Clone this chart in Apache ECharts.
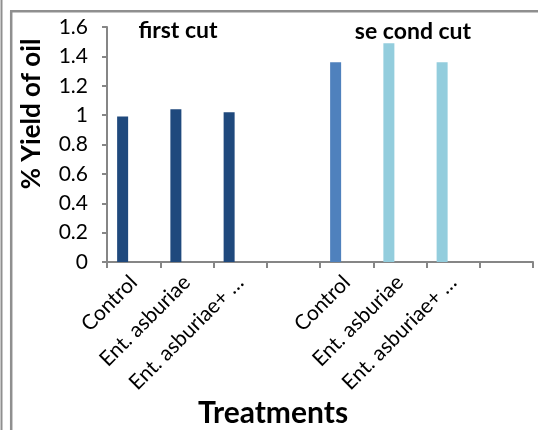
<!DOCTYPE html>
<html>
<head>
<meta charset="utf-8">
<script src="https://cdn.jsdelivr.net/npm/echarts@6/dist/echarts.min.js"></script>
<style>
  html, body { margin: 0; padding: 0; background: #fff; }
  #chart { width: 538px; height: 430px; }
</style>
</head>
<body>
<div id="chart"></div>
<script>
// Treatment labels for the two cuts; the blank slots separate the groups
const categories = ['Control', 'Ent. asburiae', 'Ent. asburiae+ …', '',
                    'Control', 'Ent. asburiae', 'Ent. asburiae+ …', ''];
// % yield of oil per treatment
const yieldValues = [0.99, 1.04, 1.02, null, 1.36, 1.49, 1.36, null];
// bar colours per treatment slot
const barColors = ['#1F497D', '#1F497D', '#1F497D', '#1F497D',
                   '#4F81BD', '#93CDDD', '#93CDDD', '#93CDDD'];
const yTicks = { min: 0, max: 1.6, interval: 0.2 };
const groupLabels = ['first cut', 'se cond cut'];
const yTitle = '% Yield of oil';
const xTitle = 'Treatments';

const FONT = 'Lato, "Open Sans", sans-serif';
const AXIS = '#868686';
const BORDER = '#8f8f8f';

const chart = echarts.init(document.getElementById('chart'), null, { renderer: 'canvas' });

// the two unused series reserve the neighbouring slots within each category
const emptySeries = (name) => ({
  name, type: 'bar', barWidth: 11, barGap: '0%',
  data: categories.map(() => null)
});

chart.setOption({
  animation: false,
  backgroundColor: '#ffffff',
  grid: { left: 107, right: 5, top: 27, bottom: 168, containLabel: false },
  xAxis: {
    type: 'category',
    data: categories,
    boundaryGap: true,
    axisLine: { lineStyle: { color: AXIS, width: 2 } },
    axisTick: { show: true, length: 6, inside: false, alignWithLabel: false, lineStyle: { color: AXIS, width: 2 } },
    axisLabel: { rotate: 45, interval: 0, margin: 17, color: '#000', fontFamily: FONT, fontSize: 21 },
    splitLine: { show: false }
  },
  yAxis: {
    type: 'value',
    min: yTicks.min, max: yTicks.max, interval: yTicks.interval,
    axisLine: { show: true, lineStyle: { color: AXIS, width: 2 } },
    axisTick: { show: true, length: 5, lineStyle: { color: AXIS, width: 2 } },
    axisLabel: { margin: 19, color: '#000', fontFamily: FONT, fontSize: 21 },
    splitLine: { show: false }
  },
  series: [
    {
      name: 'yield', type: 'bar', barWidth: 11, barGap: '0%',
      data: yieldValues.map((v, i) => ({ value: v, itemStyle: { color: barColors[i] } }))
    },
    emptySeries('s2'),
    emptySeries('s3')
  ],
  graphic: [
    // outer frame lines
    { type: 'line', shape: { x1: 1.5, y1: 0, x2: 1.5, y2: 430 }, style: { stroke: BORDER, lineWidth: 2 } },
    { type: 'line', shape: { x1: 11.2, y1: 11.2, x2: 11.2, y2: 430 }, style: { stroke: BORDER, lineWidth: 2.5 } },
    { type: 'line', shape: { x1: 10, y1: 11.2, x2: 538, y2: 11.2 }, style: { stroke: BORDER, lineWidth: 2.5 } },
    // group captions
    { type: 'text', x: 178, y: 31, style: { text: groupLabels[0], font: 'bold 23px ' + FONT, fill: '#000', align: 'center', verticalAlign: 'middle' } },
    { type: 'text', x: 413, y: 32, style: { text: groupLabels[1], font: 'bold 23px ' + FONT, fill: '#000', align: 'center', verticalAlign: 'middle' } },
    // axis titles
    { type: 'text', x: 32, y: 114, rotation: Math.PI / 2, style: { text: yTitle, font: 'bold 26px ' + FONT, fill: '#000', align: 'center', verticalAlign: 'middle' } },
    { type: 'text', x: 273, y: 413, style: { text: xTitle, font: 'bold 30px ' + FONT, fill: '#000', align: 'center', verticalAlign: 'middle' } }
  ]
});
</script>
</body>
</html>
